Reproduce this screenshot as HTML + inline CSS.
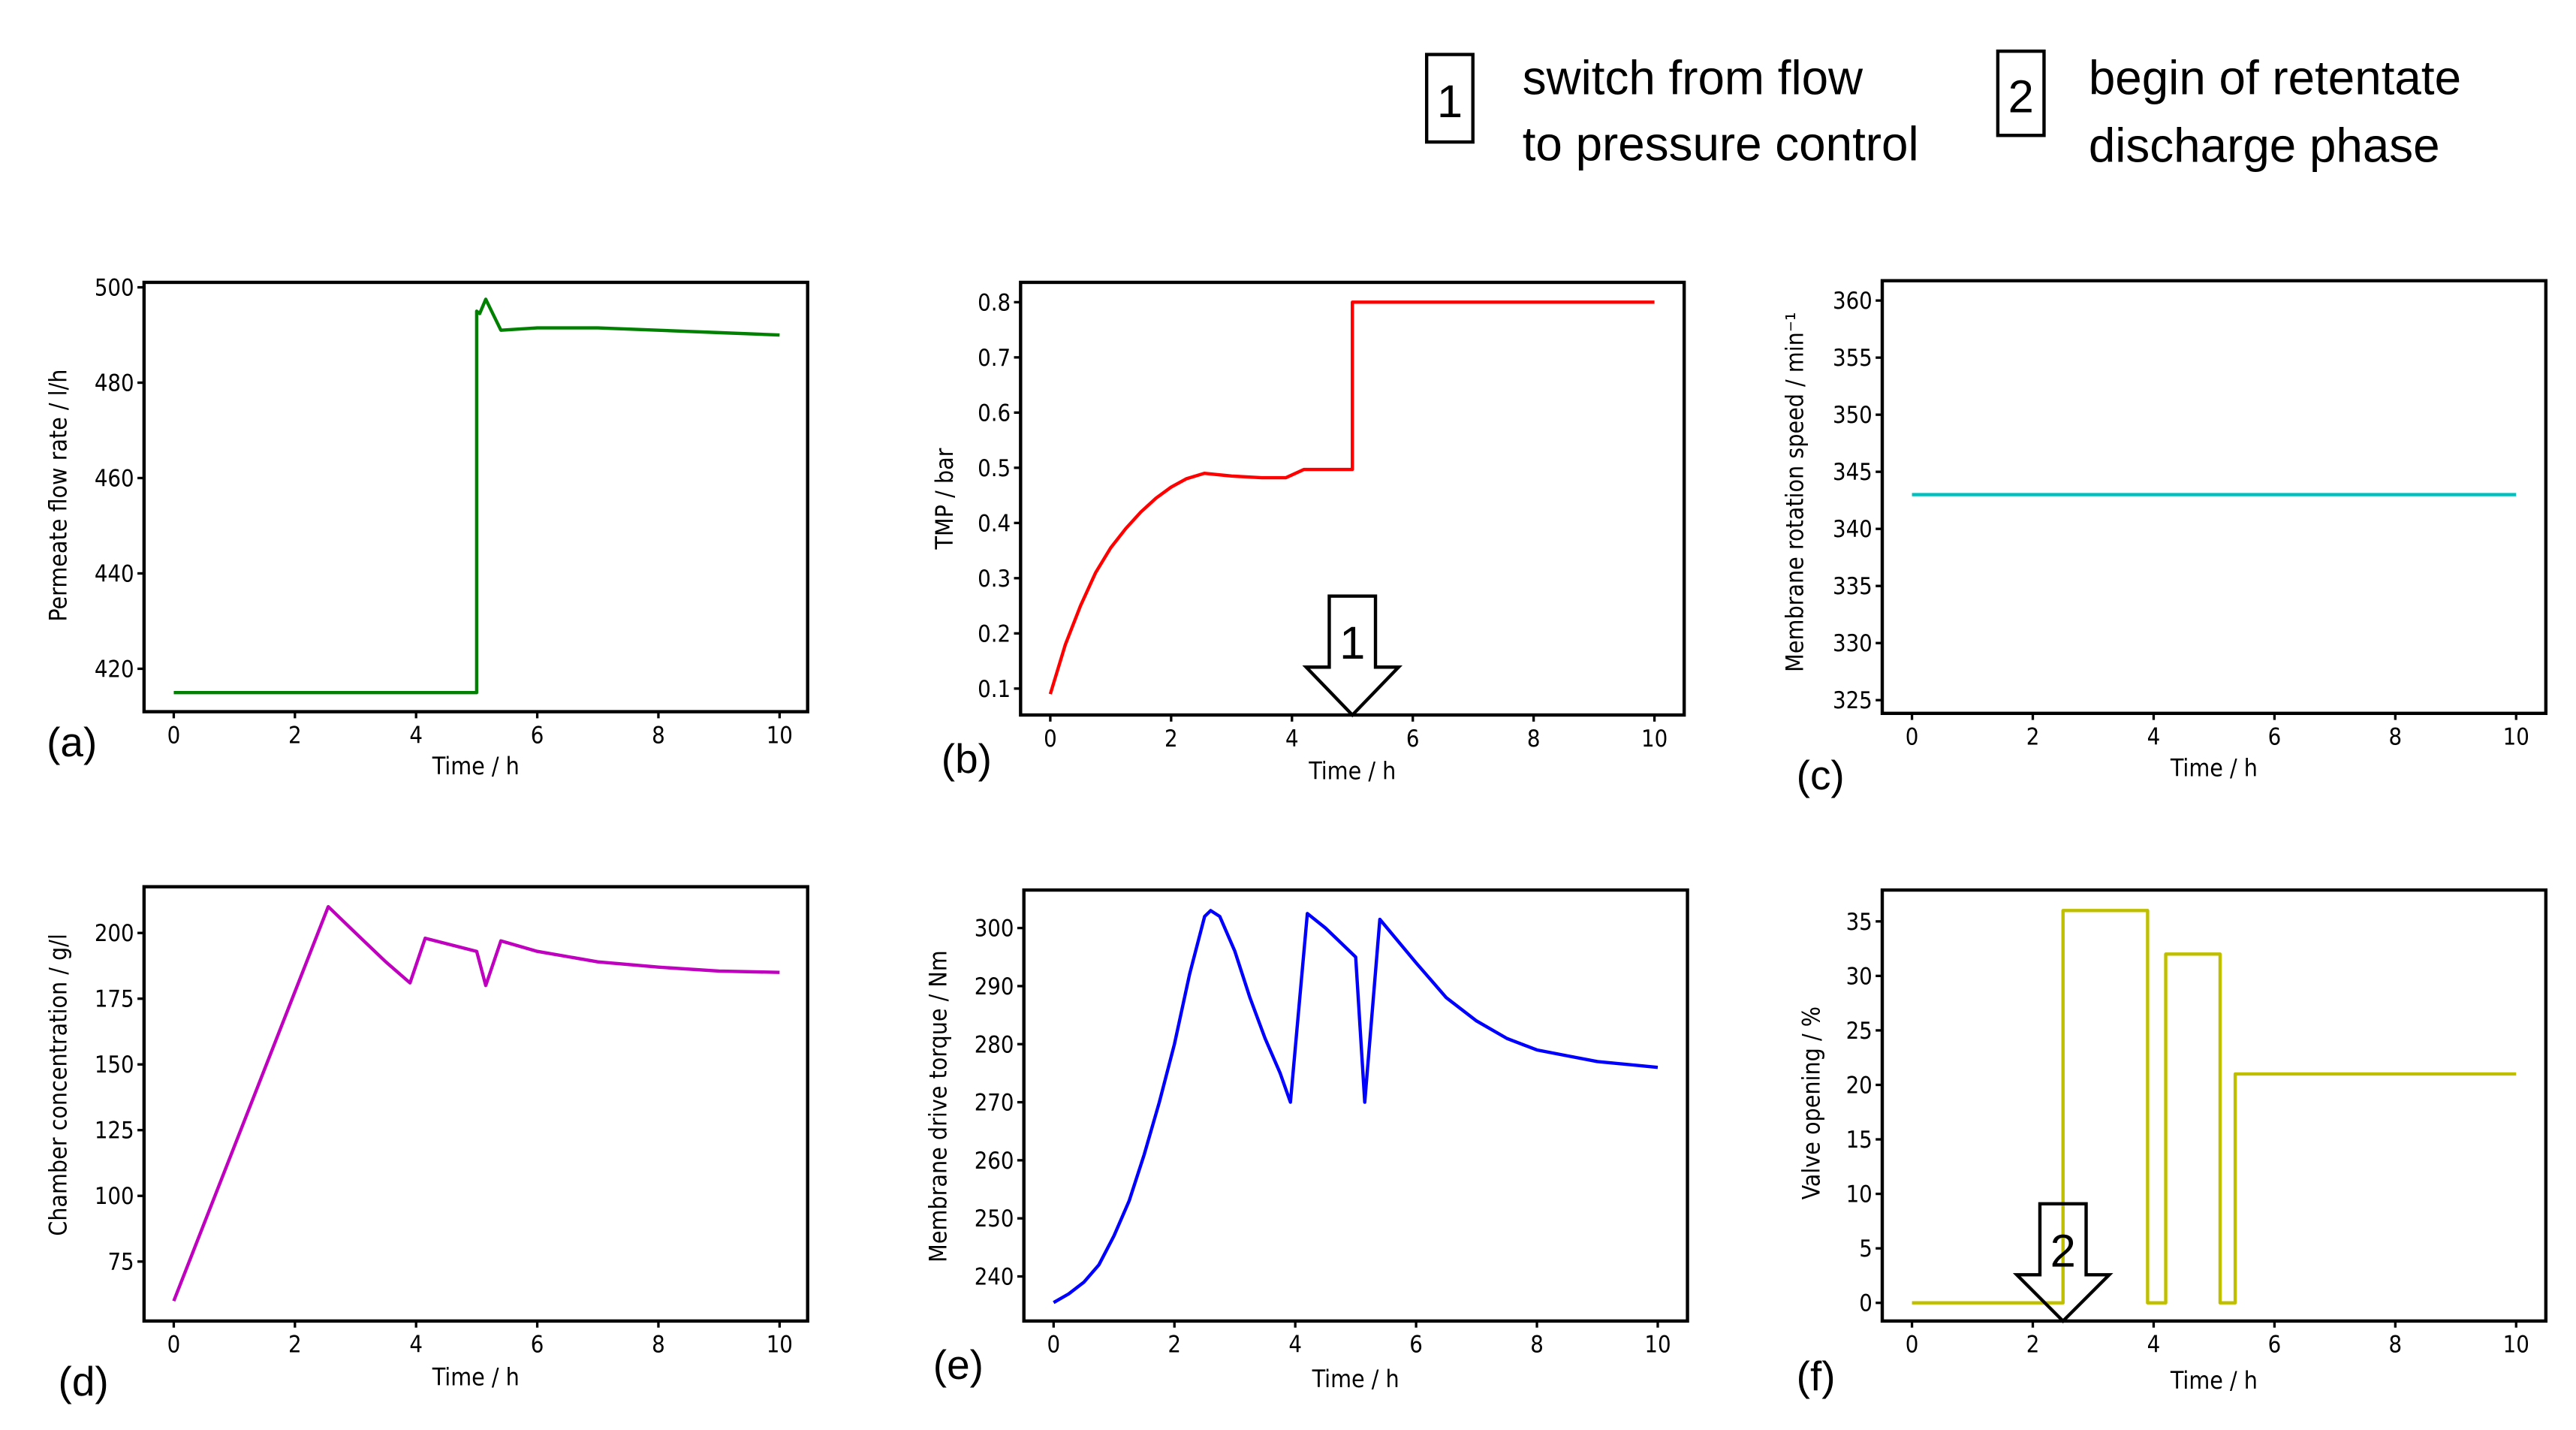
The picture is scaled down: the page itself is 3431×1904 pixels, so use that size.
<!DOCTYPE html>
<html><head><meta charset="utf-8"><style>
html,body{margin:0;padding:0;background:#fff;}
svg{display:block;}
text{font-family:"DejaVu Sans Condensed","DejaVu Sans","Liberation Sans",sans-serif;fill:#000;}
.big{font-family:"Liberation Sans","DejaVu Sans",sans-serif;}
</style></head><body>
<svg id="fig" width="3431" height="1904" viewBox="0 0 1560 866" xmlns="http://www.w3.org/2000/svg">
<g>
<rect x="864" y="33" width="28" height="53" fill="none" stroke="#000" stroke-width="2"/>
<text class="big" x="878" y="71" font-size="28" text-anchor="middle">1</text>
<text class="big" x="922" y="57" font-size="29">switch from flow</text>
<text class="big" x="922" y="97" font-size="29">to pressure control</text>
<rect x="1210" y="31" width="28" height="51" fill="none" stroke="#000" stroke-width="2"/>
<text class="big" x="1224" y="68" font-size="28" text-anchor="middle">2</text>
<text class="big" x="1265" y="57" font-size="29">begin of retentate</text>
<text class="big" x="1265" y="98" font-size="29">discharge phase</text>
</g>
</svg>
<script>
const tA=[0,5,5,5.05,5.15,5.4,6,7,8,9,10];
const vA=[415,415,495,494.5,497.5,491,491.5,491.5,491,490.5,490];
const tB=[0,0.25,0.5,0.75,1,1.25,1.5,1.75,2,2.25,2.55,3,3.5,3.9,4.2,5,5,10];
const vB=[0.09,0.18,0.25,0.31,0.355,0.39,0.42,0.445,0.465,0.48,0.49,0.485,0.482,0.482,0.497,0.497,0.8,0.8];
const tC=[0,10];
const vC=[343,343];
const tD=[0,2.55,3,3.5,3.9,4.15,5.0,5.15,5.4,6,7,8,9,10];
const vD=[60,210,200,189,181,198,193,180,197,193,189,187,185.5,185];
const tE=[0,0.25,0.5,0.75,1,1.25,1.5,1.75,2,2.25,2.5,2.6,2.75,3,3.25,3.5,3.75,3.92,4.2,4.5,5.0,5.15,5.4,6,6.5,7,7.5,8,8.5,9,10];
const vE=[235.5,237,239,242,247,253,261,270,280,292,302,303,302,296,288,281,275,270,302.5,300,295,270,301.5,294,288,284,281,279,278,277,276];
const tF=[0,2.5,2.5,3.9,3.9,4.2,4.2,5.1,5.1,5.35,5.35,10];
const vF=[0,0,36,36,0,0,32,32,0,0,21,21];
const xTicks=[0,2,4,6,8,10];
const yTicksA=[420,440,460,480,500];
const yTicksB=[0.1,0.2,0.3,0.4,0.5,0.6,0.7,0.8];
const yTicksC=[325,330,335,340,345,350,355,360];
const yTicksD=[75,100,125,150,175,200];
const yTicksE=[240,250,260,270,280,290,300];
const yTicksF=[0,5,10,15,20,25,30,35];

const NS="http://www.w3.org/2000/svg";
const svg=document.getElementById('fig');
function mk(tag,attrs,parent){const e=document.createElementNS(NS,tag);for(const k in attrs)e.setAttribute(k,attrs[k]);(parent||svg).appendChild(e);return e;}

const panels=[
 {id:'a',L:87,R:489,T:171,B:431,x0:105,x10:472,ya:[420,405],yb:[500,174],ticks:yTicksA,fmt:v=>v,t:tA,v:vA,col:'#008000',ylab:'Permeate flow rate / l/h',ylx:40,yly:300,xly:469,pl:[28,458]},
 {id:'b',L:618,R:1020,T:171,B:433,x0:636,x10:1002,ya:[0.1,417],yb:[0.8,183],ticks:yTicksB,fmt:v=>v.toFixed(1),t:tB,v:vB,col:'#ff0000',ylab:'TMP / bar',ylx:577,yly:302,xly:472,pl:[570,468]},
 {id:'c',L:1140,R:1542,T:170,B:432,x0:1158,x10:1524,ya:[325,424],yb:[360,182],ticks:yTicksC,fmt:v=>v,t:tC,v:vC,col:'#00bfbf',ylab:'Membrane rotation speed / min\u207B\u00B9',ylx:1092,yly:298,xly:470,pl:[1088,478]},
 {id:'d',L:87,R:489,T:537,B:800,x0:105,x10:472,ya:[75,764],yb:[200,565],ticks:yTicksD,fmt:v=>v,t:tD,v:vD,col:'#bf00bf',ylab:'Chamber concentration / g/l',ylx:40,yly:657,xly:839,pl:[35,845]},
 {id:'e',L:620,R:1022,T:539,B:800,x0:638,x10:1004,ya:[240,773],yb:[300,562],ticks:yTicksE,fmt:v=>v,t:tE,v:vE,col:'#0000ff',ylab:'Membrane drive torque / Nm',ylx:573,yly:670,xly:840,pl:[565,835]},
 {id:'f',L:1140,R:1542,T:539,B:800,x0:1158,x10:1524,ya:[0,789],yb:[35,558],ticks:yTicksF,fmt:v=>v,t:tF,v:vF,col:'#bfbf00',ylab:'Valve opening / %',ylx:1102,yly:668,xly:841,pl:[1088,842]}
];
panels.forEach(p=>{
 const g=mk('g',{});
 
 
 const X=t=>p.x0+(p.x10-p.x0)*t/10;
 const Y=v=>p.ya[1]+(p.yb[1]-p.ya[1])*(v-p.ya[0])/(p.yb[0]-p.ya[0]);
 const line=mk('polyline',{points:p.t.map((t,i)=>X(t).toFixed(2)+','+Y(p.v[i]).toFixed(2)).join(' '),fill:'none',stroke:p.col,'stroke-width':2,'stroke-linejoin':'round'},g);
 
 
 const fr=mk('rect',{x:p.L,y:p.T,width:p.R-p.L,height:p.B-p.T,fill:'none',stroke:'#000','stroke-width':2},g);
 
 
 xTicks.forEach(t=>{
  mk('line',{x1:X(t),x2:X(t),y1:p.B,y2:p.B+4,stroke:'#000','stroke-width':1.5},g);
  const tx=mk('text',{x:X(t),y:p.B+19,'font-size':14,'text-anchor':'middle'},g);
  tx.textContent=t;
  
  
 });
 p.ticks.forEach(v=>{
  mk('line',{x1:p.L-4,x2:p.L,y1:Y(v),y2:Y(v),stroke:'#000','stroke-width':1.5},g);
  const tx=mk('text',{x:p.L-6,y:Y(v)+5,'font-size':14,'text-anchor':'end'},g);
  tx.textContent=p.fmt(v);
  
  
 });
 const xl=mk('text',{x:(p.L+p.R)/2,y:p.xly,'font-size':14.5,'text-anchor':'middle'},g);
 xl.textContent='Time / h';
 
 
 const yl=mk('text',{x:p.ylx,y:p.yly,'font-size':14.5,'text-anchor':'middle',transform:'rotate(-90 '+p.ylx+' '+p.yly+')'},g);
 yl.textContent=p.ylab;
 
 
 const pl=mk('text',{x:p.pl[0],y:p.pl[1],'font-size':25,'class':'big'},g);
 pl.textContent='('+p.id+')';
 
 
 p.X=X;p.g=g;
});
function arrow(p,t,top,boxBot,num){
 const cx=p.X(t),tip=p.B;
 const a=mk('polygon',{points:[[cx-14,top],[cx+14,top],[cx+14,boxBot],[cx+28,boxBot],[cx,tip],[cx-28,boxBot],[cx-14,boxBot]].map(q=>q.join(',')).join(' '),fill:'none',stroke:'#000','stroke-width':2},p.g);
 
 
 const tx=mk('text',{x:cx,y:boxBot-5,'font-size':28,'text-anchor':'middle','class':'big'},p.g);
 tx.textContent=num;
}
arrow(panels[1],5,361,404,'1');
arrow(panels[5],2.5,729,772,'2');
</script>
</body></html>
